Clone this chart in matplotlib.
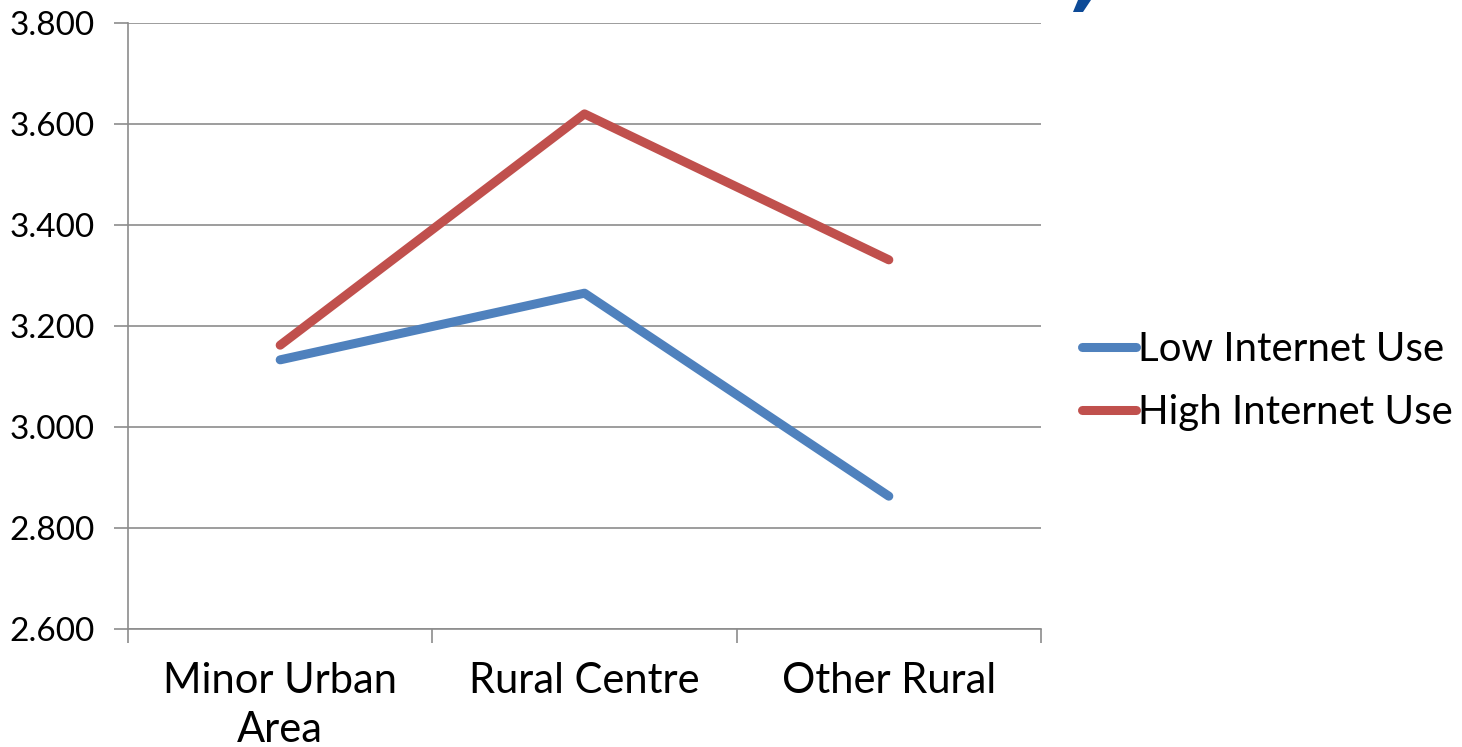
import matplotlib
matplotlib.use("Agg")
import matplotlib.pyplot as plt
from matplotlib.patches import Polygon
from matplotlib.lines import Line2D
from matplotlib.ticker import FixedLocator, NullFormatter

categories = ["Minor Urban\nArea", "Rural Centre", "Other Rural"]
low_use = [3.133, 3.265, 2.863]
high_use = [3.162, 3.620, 3.331]
y_ticks = [2.6, 2.8, 3.0, 3.2, 3.4, 3.6, 3.8]
series_names = ["Low Internet Use", "High Internet Use"]
series_colors = ["#4f81bd", "#c0504d"]

W, H = 1462, 747
fig = plt.figure(figsize=(W / 100, H / 100), dpi=100)
ax = fig.add_axes([128 / W, 1 - 629 / H, (1041 - 128) / W, (629 - 23) / H])

font = "Lato"
x = [i + 0.5 for i in range(len(categories))]
for vals, name, col in zip([low_use, high_use], series_names, series_colors):
    ax.plot(x, vals, color=col, lw=6.5, solid_capstyle="round",
            solid_joinstyle="round", label=name, clip_on=False)

ax.set_xlim(0, len(categories))
ax.set_ylim(2.6, 3.8)
ax.set_yticks(y_ticks)
ax.set_yticklabels([f"{v:.3f}" for v in y_ticks], fontsize=24, family=font)
ax.yaxis.grid(True, color="#8c8c8c", lw=1.2)
ax.set_axisbelow(True)

ax.set_xticks(x)
ax.set_xticklabels(categories, fontsize=30, family=font, linespacing=1.35)
ax.tick_params(axis="x", which="major", length=0, pad=24)
ax.xaxis.set_minor_locator(FixedLocator(range(len(categories) + 1)))
ax.xaxis.set_minor_formatter(NullFormatter())
ax.tick_params(axis="x", which="minor", length=10, width=1.2, color="#8c8c8c")
ax.tick_params(axis="y", length=10, width=1.2, color="#8c8c8c", pad=14)

for s in ["top", "right"]:
    ax.spines[s].set_visible(False)
for s in ["left", "bottom"]:
    ax.spines[s].set_color("#8c8c8c")
    ax.spines[s].set_linewidth(1.2)

handles = [Line2D([], [], color=c, lw=6.5, solid_capstyle="round") for c in series_colors]
leg = fig.legend(handles, series_names, loc="center left",
                 bbox_to_anchor=(1066 / W, 1 - 381 / H), frameon=False,
                 prop={"family": font, "size": 29}, handlelength=1.35,
                 handletextpad=0.05, labelspacing=0.66, borderaxespad=0)

# title glyph fragment at the top edge
frag = Polygon([(1078 / W, 1.0), (1091 / W, 1.0), (1083 / W, 1 - 12 / H), (1073 / W, 1 - 12 / H)],
               closed=True, transform=fig.transFigure, color="#0d4a97", lw=0)
fig.patches.append(frag)

fig.savefig("out.png", dpi=100)
